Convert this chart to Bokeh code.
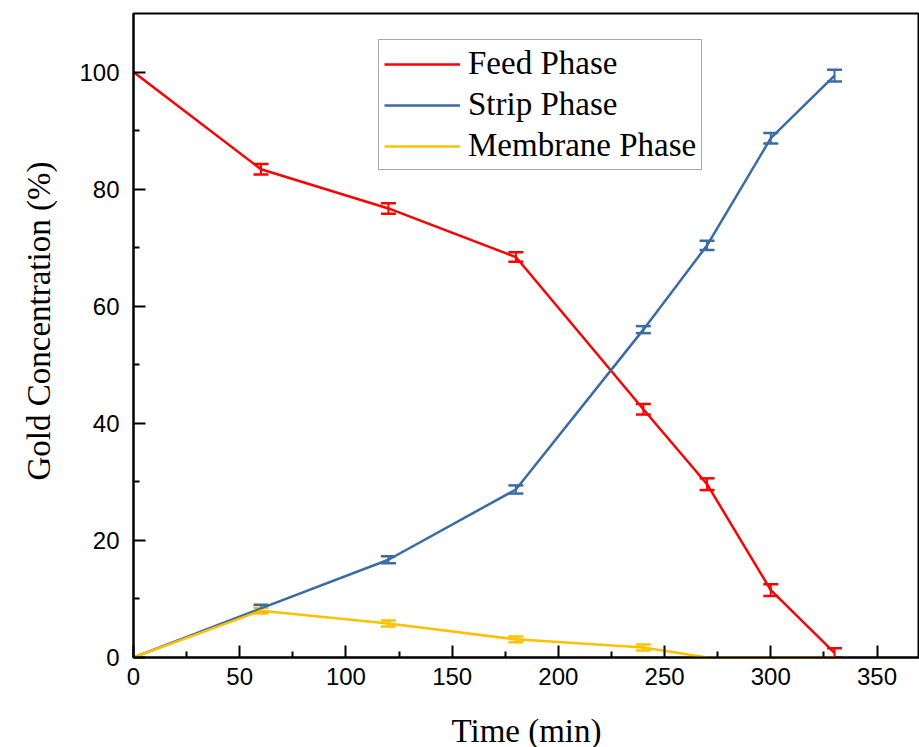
from bokeh.plotting import figure
from bokeh.models import (ColumnDataSource, Whisker, TeeHead, Legend, LegendItem,
                          FixedTicker, Range1d, Title)
from bokeh.embed import file_html
from bokeh.resources import INLINE

# Sampling times (min)
time_min = [0, 60, 120, 180, 240, 270, 300, 330]

# Gold concentration (%) in each phase, with standard deviations
feed = [100.0, 83.4, 76.7, 68.4, 42.4, 29.6, 11.5, 0.8]
feed_err = [0.0, 0.9, 0.9, 0.8, 0.9, 1.0, 1.0, 0.8]
strip = [0.0, 8.4, 16.7, 28.7, 56.0, 70.4, 88.7, 99.4]
strip_err = [0.0, 0.6, 0.6, 0.7, 0.6, 0.8, 0.9, 1.0]
membrane = [0.0, 8.0, 5.8, 3.1, 1.7, 0.0, 0.0, 0.0]
membrane_err = [0.0, 0.5, 0.5, 0.5, 0.5, 0.0, 0.0, 0.0]

series_names = ["Feed Phase", "Strip Phase", "Membrane Phase"]
colors = ["#FF0000", "#3B6BA4", "#FFC000"]

p = figure(
    output_backend="svg", toolbar_location=None,
    frame_width=786, frame_height=644,
    min_border_left=133, min_border_right=0, min_border_top=13, min_border_bottom=90,
    x_range=Range1d(0, 370), y_range=Range1d(0, 110),
)
p.grid.visible = False
p.background_fill_color = "white"
p.border_fill_color = "white"
p.outline_line_color = "black"
p.outline_line_width = 2

for ax in (p.xaxis[0], p.yaxis[0]):
    ax.axis_line_width = 2
    ax.axis_line_color = "black"
    ax.major_tick_line_width = 2
    ax.minor_tick_line_width = 2
    ax.major_tick_in = 12
    ax.major_tick_out = 0
    ax.minor_tick_in = 6
    ax.minor_tick_out = 0
    ax.major_label_text_font = "Liberation Sans"
    ax.major_label_text_font_size = "24px"
    ax.major_label_text_color = "black"
    ax.axis_label_text_font = "Liberation Serif"
    ax.axis_label_text_font_size = "33px"
    ax.axis_label_text_font_style = "normal"
    ax.axis_label_text_color = "black"

p.xaxis.ticker = FixedTicker(ticks=list(range(0, 351, 50)), minor_ticks=list(range(25, 370, 50)))
p.yaxis.ticker = FixedTicker(ticks=list(range(0, 101, 20)), minor_ticks=list(range(10, 110, 20)))
p.xaxis.axis_label = "Time (min)"
p.xaxis.major_label_standoff = 10
p.yaxis.major_label_standoff = 14
p.xaxis.axis_label_standoff = 25

# y-axis title as a side title, starting a little above the frame's middle
p.add_layout(Title(
    text="Gold Concentration (%)", align="left", offset=177, standoff=36,
    vertical_align="top",
    text_font="Liberation Serif", text_font_size="33px",
    text_font_style="normal", text_color="black",
), "left")

items = []
for name, vals, errs, color in zip(series_names, [feed, strip, membrane],
                                   [feed_err, strip_err, membrane_err], colors):
    src = ColumnDataSource(dict(x=time_min, y=vals))
    r = p.line("x", "y", source=src, line_color=color, line_width=2.5)
    # error bars only where a deviation was measured
    mask = [i for i in range(len(time_min)) if errs[i] > 0]
    esrc = ColumnDataSource(dict(
        x=[time_min[i] for i in mask],
        upper=[vals[i] + errs[i] for i in mask],
        lower=[vals[i] - errs[i] for i in mask],
    ))
    w = Whisker(base="x", upper="upper", lower="lower", source=esrc, dimension="height",
                line_color=color, line_width=2,
                upper_head=TeeHead(size=15, line_color=color, line_width=2.5),
                lower_head=TeeHead(size=15, line_color=color, line_width=2.5))
    p.add_layout(w)
    items.append(LegendItem(label=name, renderers=[r]))

legend = Legend(items=items, location=(245, 487))
legend.label_text_font = "Liberation Serif"
legend.label_text_font_size = "33px"
legend.label_text_color = "black"
legend.glyph_width = 76
legend.glyph_height = 30
legend.label_height = 30
legend.label_standoff = 8
legend.spacing = 4
legend.padding = 5
legend.margin = 0
legend.border_line_color = "#555555"
legend.border_line_width = 1.5
legend.background_fill_alpha = 1.0
p.add_layout(legend)

open("out.html", "w").write(file_html(p, INLINE))
